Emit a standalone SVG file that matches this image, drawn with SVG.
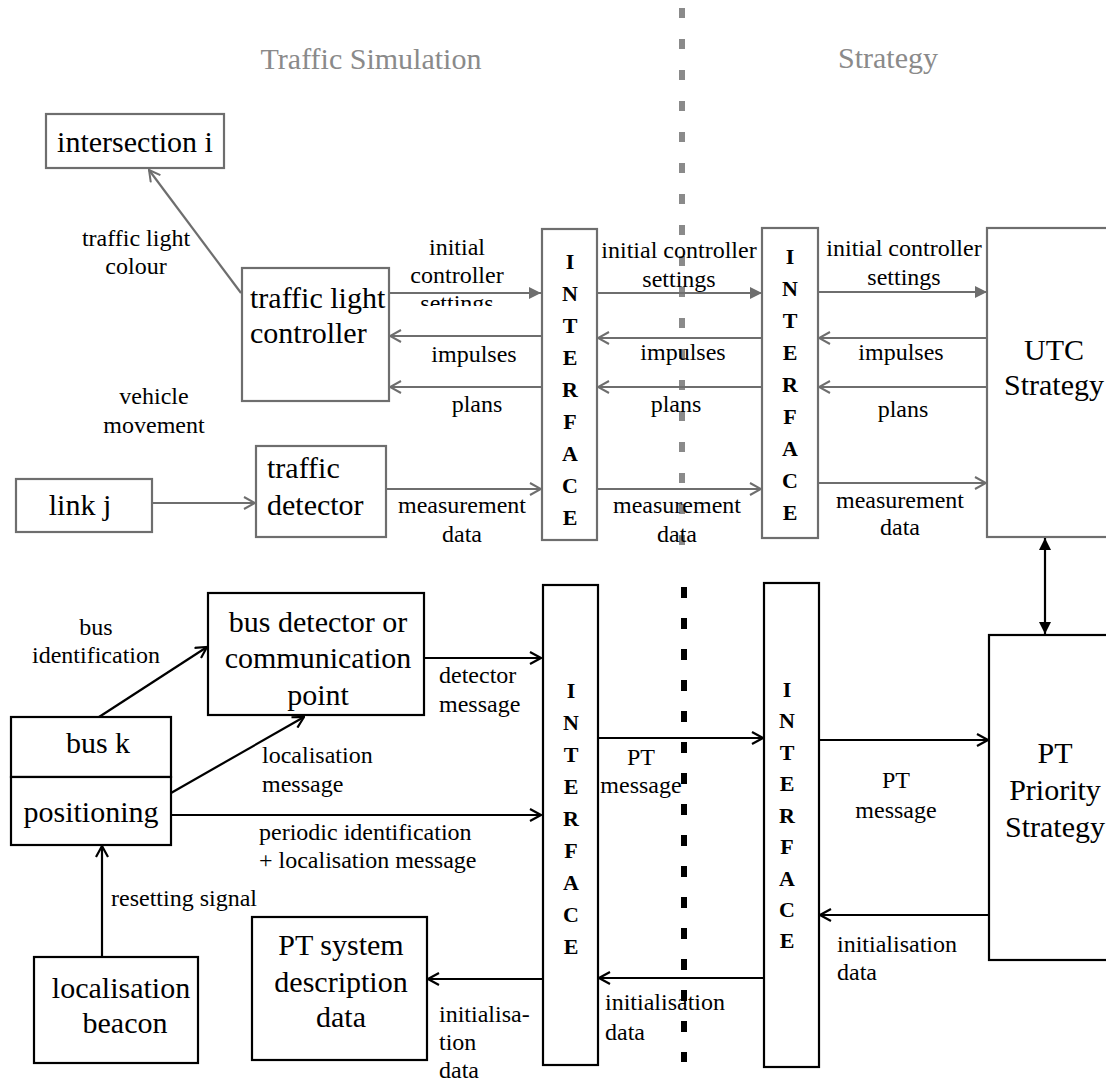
<svg xmlns="http://www.w3.org/2000/svg" width="1106" height="1083" viewBox="0 0 1106 1083" font-family="'Liberation Serif', Tinos, 'Times New Roman', 'DejaVu Serif', serif">
  <style>
    text { font-family: "Liberation Serif", Tinos, "Times New Roman", "DejaVu Serif", serif; fill: #000; }
    .hdr { font-size: 30px; fill: #8a8a8a; text-anchor: middle; }
    .node { font-size: 30px; }
    .mid { text-anchor: middle; }
    .lbl { font-size: 24px; }
    .if { font-size: 22px; font-weight: bold; text-anchor: middle; }
    .bg { fill: #fff; stroke: #6e6e6e; stroke-width: 2.2; }
    .bk { fill: #fff; stroke: #000; stroke-width: 2.2; }
    .cg { fill: none; stroke: #6e6e6e; stroke-width: 2.2; }
    .cb { fill: none; stroke: #000; stroke-width: 2.2; }
    .og { marker-end: url(#openGray); }
    .fg { marker-end: url(#fillGray); }
    .ob { marker-end: url(#openBlack); }
  </style>
  <defs>
    <marker id="openGray" viewBox="0 0 13 14" refX="12" refY="7" markerWidth="13" markerHeight="14" markerUnits="userSpaceOnUse" orient="auto">
      <path d="M1,1 L12,7 L1,13" fill="none" stroke="#6e6e6e" stroke-width="2"/>
    </marker>
    <marker id="openBlack" viewBox="0 0 13 14" refX="12" refY="7" markerWidth="13" markerHeight="14" markerUnits="userSpaceOnUse" orient="auto">
      <path d="M1,1 L12,7 L1,13" fill="none" stroke="#000" stroke-width="2.2"/>
    </marker>
    <marker id="fillGray" viewBox="0 0 12 14" refX="12" refY="7" markerWidth="12" markerHeight="14" markerUnits="userSpaceOnUse" orient="auto">
      <path d="M0,1 L12,7 L0,13 Z" fill="#6e6e6e"/>
    </marker>
    <marker id="fillBlack" viewBox="0 0 12 14" refX="12" refY="7" markerWidth="12" markerHeight="14" markerUnits="userSpaceOnUse" orient="auto-start-reverse">
      <path d="M0,1 L12,7 L0,13 Z" fill="#000"/>
    </marker>
    <clipPath id="cutSettings">
      <rect x="380" y="280" width="160" height="26"/>
    </clipPath>
  </defs>

  <rect width="1106" height="1083" fill="#fff"/>

  <!-- domain divider -->
  <g id="divider">
    <line x1="682" y1="8" x2="682" y2="566" stroke="#8a8a8a" stroke-width="6" stroke-dasharray="10 21"/>
    <line x1="684" y1="587" x2="684" y2="1062" stroke="#000" stroke-width="6" stroke-dasharray="11 20"/>
  </g>

  <text class="hdr" x="371" y="69">Traffic Simulation</text>
  <text class="hdr" x="888" y="68">Strategy</text>

  <!-- nodes: traffic simulation side -->
  <g id="intersection">
    <rect class="bg" x="46" y="114" width="178" height="54"/>
    <text class="node mid" x="135" y="152">intersection i</text>
  </g>
  <g id="controller">
    <rect class="bg" x="242" y="268" width="147" height="133"/>
    <text class="node" x="250" y="308">traffic light</text>
    <text class="node" x="250" y="343">controller</text>
  </g>
  <g id="link">
    <rect class="bg" x="16" y="479" width="136" height="53"/>
    <text class="node mid" x="80" y="515">link j</text>
  </g>
  <g id="detector">
    <rect class="bg" x="256" y="446" width="130" height="91"/>
    <text class="node" x="267" y="478">traffic</text>
    <text class="node" x="267" y="515">detector</text>
  </g>
  <g id="interface1">
    <rect class="bg" x="542" y="229" width="55" height="311"/>
    <text class="if" x="570" y="269">I</text>
    <text class="if" x="570" y="301">N</text>
    <text class="if" x="570" y="333">T</text>
    <text class="if" x="570" y="365">E</text>
    <text class="if" x="570" y="397">R</text>
    <text class="if" x="570" y="429">F</text>
    <text class="if" x="570" y="461">A</text>
    <text class="if" x="570" y="493">C</text>
    <text class="if" x="570" y="525">E</text>
  </g>
  <g id="interface2">
    <rect class="bg" x="762" y="228" width="56" height="310"/>
    <text class="if" x="790" y="264">I</text>
    <text class="if" x="790" y="296">N</text>
    <text class="if" x="790" y="328">T</text>
    <text class="if" x="790" y="360">E</text>
    <text class="if" x="790" y="392">R</text>
    <text class="if" x="790" y="424">F</text>
    <text class="if" x="790" y="456">A</text>
    <text class="if" x="790" y="488">C</text>
    <text class="if" x="790" y="520">E</text>
  </g>
  <g id="utc">
    <rect class="bg" x="987" y="228" width="140" height="309"/>
    <text class="node mid" x="1054" y="360">UTC</text>
    <text class="node mid" x="1054" y="395">Strategy</text>
  </g>

  <!-- nodes: public transport -->
  <g id="busDetector">
    <rect class="bk" x="208" y="593" width="216" height="122"/>
    <text class="node mid" x="318" y="632">bus detector or</text>
    <text class="node mid" x="318" y="668">communication</text>
    <text class="node mid" x="318" y="705">point</text>
  </g>
  <g id="bus">
    <rect class="bk" x="11" y="717" width="160" height="60"/>
    <rect class="bk" x="11" y="777" width="160" height="68"/>
    <text class="node mid" x="98" y="753">bus k</text>
    <text class="node mid" x="91" y="822">positioning</text>
  </g>
  <g id="beacon">
    <rect class="bk" x="34" y="957" width="164" height="106"/>
    <text class="node mid" x="121" y="998">localisation</text>
    <text class="node mid" x="125" y="1033">beacon</text>
  </g>
  <g id="ptSystem">
    <rect class="bk" x="252" y="917" width="175" height="143"/>
    <text class="node mid" x="341" y="955">PT system</text>
    <text class="node mid" x="341" y="992">description</text>
    <text class="node mid" x="341" y="1027">data</text>
  </g>
  <g id="interface3">
    <rect class="bk" x="543" y="585" width="55" height="480"/>
    <text class="if" x="571" y="698">I</text>
    <text class="if" x="571" y="730">N</text>
    <text class="if" x="571" y="762">T</text>
    <text class="if" x="571" y="794">E</text>
    <text class="if" x="571" y="826">R</text>
    <text class="if" x="571" y="858">F</text>
    <text class="if" x="571" y="890">A</text>
    <text class="if" x="571" y="922">C</text>
    <text class="if" x="571" y="954">E</text>
  </g>
  <g id="interface4">
    <rect class="bk" x="764" y="583" width="55" height="484"/>
    <text class="if" x="787" y="697">I</text>
    <text class="if" x="787" y="728">N</text>
    <text class="if" x="787" y="760">T</text>
    <text class="if" x="787" y="791">E</text>
    <text class="if" x="787" y="823">R</text>
    <text class="if" x="787" y="854">F</text>
    <text class="if" x="787" y="886">A</text>
    <text class="if" x="787" y="917">C</text>
    <text class="if" x="787" y="948">E</text>
  </g>
  <g id="ptPriority">
    <rect class="bk" x="989" y="635" width="140" height="325"/>
    <text class="node mid" x="1055" y="763">PT</text>
    <text class="node mid" x="1055" y="800">Priority</text>
    <text class="node mid" x="1055" y="837">Strategy</text>
  </g>

  <!-- connectors -->
  <g id="connectors">
    <line class="cg og" x1="241" y1="293" x2="149" y2="170"/>
    <line class="cg fg" x1="389" y1="293" x2="541" y2="293"/>
    <line class="cg og" x1="541" y1="336" x2="390" y2="336"/>
    <line class="cg og" x1="541" y1="387" x2="390" y2="387"/>
    <line class="cg og" x1="152" y1="503" x2="255" y2="503"/>
    <line class="cg og" x1="386" y1="489" x2="541" y2="489"/>
    <line class="cg fg" x1="597" y1="293" x2="762" y2="293"/>
    <line class="cg og" x1="762" y1="338" x2="598" y2="338"/>
    <line class="cg og" x1="762" y1="387" x2="598" y2="387"/>
    <line class="cg og" x1="597" y1="489" x2="761" y2="489"/>
    <line class="cg fg" x1="818" y1="292" x2="987" y2="292"/>
    <line class="cg og" x1="987" y1="338" x2="819" y2="338"/>
    <line class="cg og" x1="987" y1="387" x2="819" y2="387"/>
    <line class="cg og" x1="818" y1="483" x2="986" y2="483"/>

    <line class="cb" x1="1045" y1="538" x2="1045" y2="634" marker-start="url(#fillBlack)" marker-end="url(#fillBlack)"/>
    <line class="cb ob" x1="99" y1="717" x2="207" y2="647"/>
    <line class="cb ob" x1="171" y1="793" x2="304" y2="717"/>
    <line class="cb ob" x1="424" y1="658" x2="541" y2="658"/>
    <line class="cb ob" x1="171" y1="815" x2="541" y2="815"/>
    <line class="cb ob" x1="598" y1="738" x2="763" y2="738"/>
    <line class="cb ob" x1="819" y1="740" x2="988" y2="740"/>
    <line class="cb ob" x1="989" y1="915" x2="820" y2="915"/>
    <line class="cb ob" x1="764" y1="978" x2="599" y2="978"/>
    <line class="cb ob" x1="543" y1="979" x2="428" y2="979"/>
    <line class="cb ob" x1="102" y1="957" x2="102" y2="846"/>
  </g>

  <!-- connector labels -->
  <g id="labels">
    <text class="lbl mid" x="136" y="246">traffic light</text>
    <text class="lbl mid" x="136" y="274">colour</text>
    <text class="lbl mid" x="457" y="255">initial</text>
    <text class="lbl mid" x="457" y="283">controller</text>
    <text class="lbl mid" x="457" y="311" clip-path="url(#cutSettings)">settings</text>
    <text class="lbl mid" x="474" y="362">impulses</text>
    <text class="lbl mid" x="477" y="412">plans</text>
    <text class="lbl mid" x="154" y="404">vehicle</text>
    <text class="lbl mid" x="154" y="433">movement</text>
    <text class="lbl mid" x="462" y="513">measurement</text>
    <text class="lbl mid" x="462" y="542">data</text>

    <text class="lbl mid" x="679" y="258">initial controller</text>
    <text class="lbl mid" x="679" y="287">settings</text>
    <text class="lbl mid" x="683" y="360">impulses</text>
    <text class="lbl mid" x="676" y="412">plans</text>
    <text class="lbl mid" x="677" y="513">measurement</text>
    <text class="lbl mid" x="677" y="542">data</text>

    <text class="lbl mid" x="904" y="256">initial controller</text>
    <text class="lbl mid" x="904" y="285">settings</text>
    <text class="lbl mid" x="901" y="360">impulses</text>
    <text class="lbl mid" x="903" y="417">plans</text>
    <text class="lbl mid" x="900" y="508">measurement</text>
    <text class="lbl mid" x="900" y="535">data</text>

    <text class="lbl mid" x="96" y="635">bus</text>
    <text class="lbl mid" x="96" y="663">identification</text>
    <text class="lbl" x="262" y="763">localisation</text>
    <text class="lbl" x="262" y="792">message</text>
    <text class="lbl" x="439" y="683">detector</text>
    <text class="lbl" x="439" y="712">message</text>
    <text class="lbl" x="259" y="840">periodic identification</text>
    <text class="lbl" x="259" y="868">+ localisation message</text>
    <text class="lbl" x="111" y="906">resetting signal</text>
    <text class="lbl" x="439" y="1022">initialisa-</text>
    <text class="lbl" x="439" y="1050">tion</text>
    <text class="lbl" x="439" y="1078">data</text>

    <text class="lbl mid" x="641" y="765">PT</text>
    <text class="lbl mid" x="641" y="793">message</text>
    <text class="lbl mid" x="896" y="788">PT</text>
    <text class="lbl mid" x="896" y="818">message</text>
    <text class="lbl" x="837" y="952">initialisation</text>
    <text class="lbl" x="837" y="980">data</text>
    <text class="lbl" x="605" y="1010">initialisation</text>
    <text class="lbl" x="605" y="1040">data</text>
  </g>
</svg>
